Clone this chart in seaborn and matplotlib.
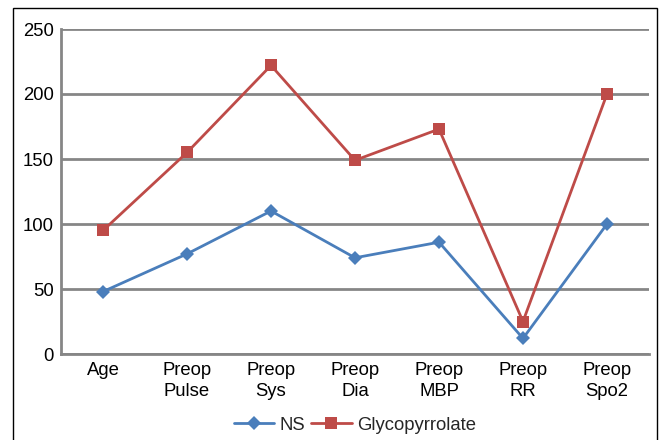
import matplotlib
matplotlib.use("Agg")
import matplotlib.pyplot as plt
import seaborn as sns
import pandas as pd
from matplotlib.patches import Rectangle
from matplotlib.lines import Line2D

categories = ["Age", "Preop\nPulse", "Preop\nSys", "Preop\nDia", "Preop\nMBP", "Preop\nRR", "Preop\nSpo2"]
ns_values = [48, 77, 110, 74, 86, 12, 100]
gly_values = [95, 155, 222, 149, 173, 25, 200]
series_names = ["NS", "Glycopyrrolate"]
y_ticks = [0, 50, 100, 150, 200, 250]

df = pd.DataFrame({
    "cat": categories * 2,
    "val": ns_values + gly_values,
    "series": [series_names[0]] * len(categories) + [series_names[1]] * len(categories),
})

sns.set_style("white")
plt.rcParams["font.family"] = ["Liberation Sans", "DejaVu Sans"]

fig = plt.figure(figsize=(6.61, 4.4), dpi=100)
ax = fig.add_axes([61/661, 1 - 354/440, (649-61)/661, (354-29)/440])

palette = {"NS": "#4A7EBB", "Glycopyrrolate": "#BE4B48"}
markers = {"NS": "D", "Glycopyrrolate": "s"}
sns.lineplot(data=df, x="cat", y="val", hue="series", style="series",
             markers=markers, dashes=False, palette=palette, sort=False,
             linewidth=2, markersize=9, markeredgewidth=0, ax=ax, legend=False)

for line in ax.get_lines():
    if line.get_marker() == "D":
        line.set_markersize(7.5)

ax.set_xlim(-0.5, len(categories) - 0.5)
ax.set_ylim(0, 250)
ax.set_yticks(y_ticks)
ax.set_xlabel("")
ax.set_ylabel("")
ax.yaxis.grid(True, color="#868686", linewidth=2)
ax.set_axisbelow(True)
for s in ["top", "right"]:
    ax.spines[s].set_visible(False)
for s in ["left", "bottom"]:
    ax.spines[s].set_color("#868686")
    ax.spines[s].set_linewidth(2)
ax.tick_params(axis="both", length=0, labelsize=13.3, colors="black")
ax.tick_params(axis="x", pad=6)
ax.tick_params(axis="y", pad=5)
for lbl in ax.get_xticklabels():
    lbl.set_linespacing(1.25)

handles = [Line2D([0], [0], color=palette[n], marker=markers[n], markersize=7.5 if n == "NS" else 9,
                  linewidth=2, markeredgewidth=0) for n in series_names]
fig.legend(handles, series_names, loc="center", bbox_to_anchor=(355/661, 1 - 425/440),
           ncol=2, frameon=False, fontsize=13.3, handlelength=2.2, columnspacing=0.3,
           handletextpad=0.3)

fig.patches.append(Rectangle((13/661, -0.05), (657-13)/661, 1 - 8/440 + 0.05,
                             transform=fig.transFigure, fill=False, edgecolor="black",
                             linewidth=1, zorder=-1))

fig.savefig("out.png", dpi=100)
